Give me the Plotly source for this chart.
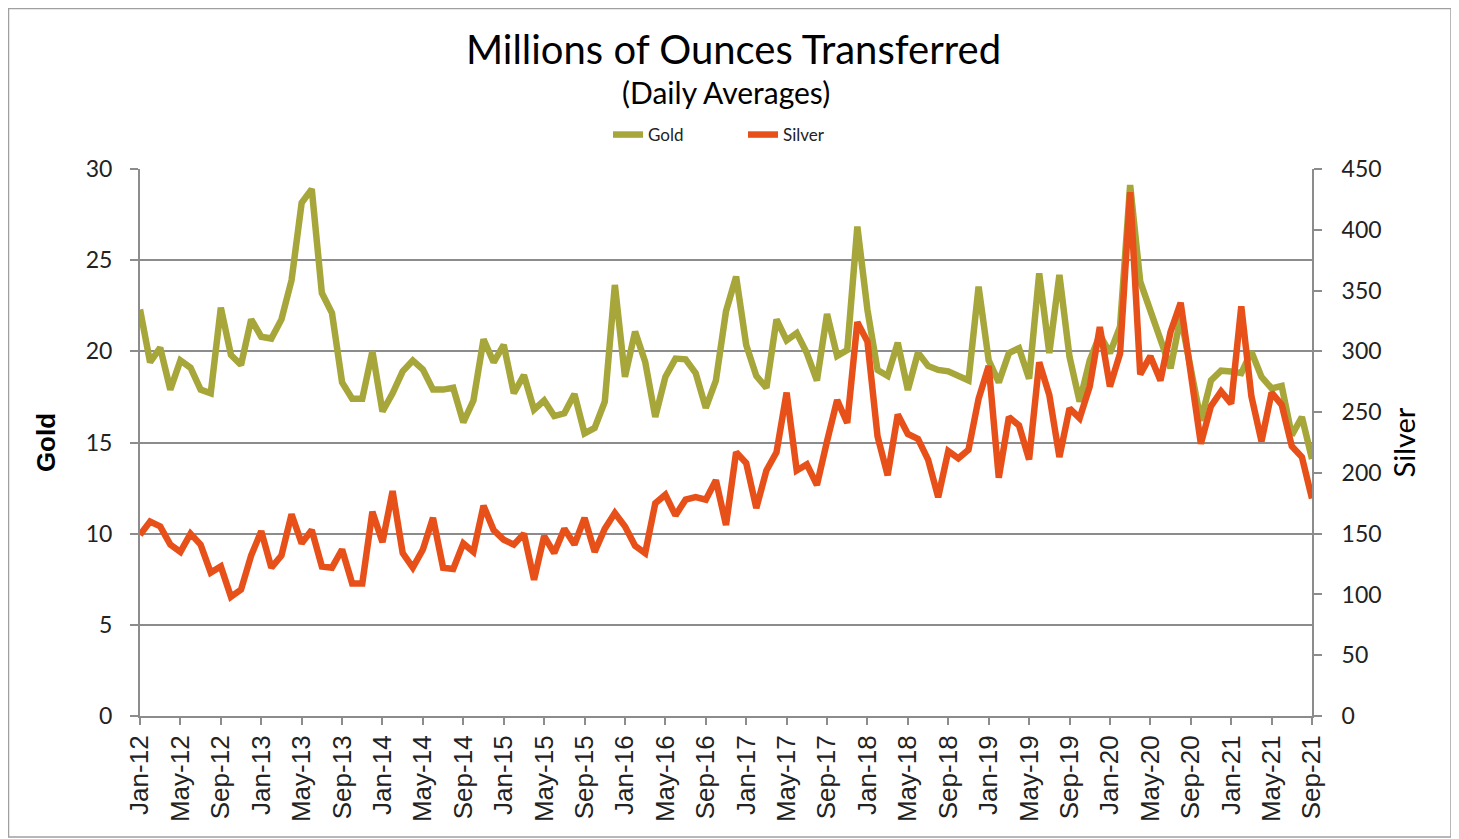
import plotly.graph_objects as go

months = ["Jan", "Feb", "Mar", "Apr", "May", "Jun", "Jul", "Aug", "Sep", "Oct", "Nov", "Dec"]
categories = [f"{m}-{y:02d}" for y in range(12, 22) for m in months][:117]

gold = [
    22.3, 19.4, 20.2, 17.9, 19.5, 19.1, 17.9, 17.7, 22.4, 19.8, 19.25, 21.75,
    20.8, 20.7, 21.75, 23.9, 28.15, 28.9, 23.2, 22.1, 18.3, 17.4, 17.4, 20.0,
    16.7, 17.7, 18.9, 19.5, 19.0, 17.9, 17.9, 18.0, 16.1, 17.3, 20.66, 19.4,
    20.35, 17.7, 18.7, 16.8, 17.3, 16.45, 16.6, 17.66, 15.5, 15.8, 17.24, 23.64,
    18.6, 21.08, 19.43, 16.4, 18.6, 19.6, 19.56, 18.8, 16.9, 18.4, 22.2, 24.1,
    20.35, 18.65, 18.0, 21.75, 20.6, 21.0, 19.9, 18.4, 22.05, 19.75, 20.07, 26.84,
    22.27, 18.98, 18.65, 20.48, 17.88, 19.93, 19.2, 18.98, 18.9, 18.65, 18.4, 23.55,
    19.5, 18.3, 19.9, 20.17, 18.5, 24.28, 19.9, 24.19, 19.7, 17.24, 19.5, 20.9,
    19.9, 21.35, 29.12, 23.82, 22.3, 20.7, 19.07, 21.9, 18.8, 16.2, 18.4, 18.94,
    18.9, 18.8, 19.98, 18.6, 17.97, 18.1, 15.4, 16.4, 14.1,
]

silver = [
    149, 160, 156, 141, 135, 150, 141, 118, 123, 98, 104, 132,
    152, 122, 132, 166, 142, 153, 123, 122, 137, 109, 109, 168,
    143, 185, 134, 122, 137, 163, 122, 121, 142, 135, 173, 153,
    145, 141, 150, 112, 148, 134, 154, 141, 163, 135, 154, 167,
    156, 140, 134, 175, 182, 165, 178, 180, 178, 194, 157, 217,
    208, 171, 202, 217, 266, 202, 207, 190, 226, 260, 241, 324,
    308, 230, 198, 248, 232, 228, 211, 180, 218, 212, 219, 261,
    288, 196, 246, 239, 211, 291, 264, 213, 253, 245, 271, 320,
    271, 298, 431, 281, 296, 276, 316, 340, 282, 224, 255, 267,
    257, 337, 263, 226, 266, 256, 222, 213, 179,
]

tick_labels = categories[::4]

GOLD_C = "#A6A63A"
SILVER_C = "#E8501A"
GRID_C = "#8C8C8C"

fig = go.Figure()
fig.add_trace(go.Scatter(x=categories, y=gold, name="Gold", mode="lines",
                         line=dict(color=GOLD_C, width=6.5), yaxis="y"))
fig.add_trace(go.Scatter(x=categories, y=silver, name="Silver", mode="lines",
                         line=dict(color=SILVER_C, width=6.5), yaxis="y2"))

# page offset of the figure inside the browser (default body margin)
OFF = 8
W, H = 1459 - OFF, 839 - OFF
L, R, T, B = 140 - OFF, 1312 - OFF, 169 - OFF, 716 - OFF

def py(page_y):
    return (B - (page_y - OFF)) / (B - T)

def px(page_x):
    return ((page_x - OFF) - L) / (R - L)

fig.update_layout(
    width=W, height=H,
    margin=dict(l=L, r=W - R, t=T, b=H - B, pad=0),
    paper_bgcolor="white", plot_bgcolor="white",
    showlegend=True,
    legend=dict(orientation="h", x=px(743), xanchor="center", y=py(135), yanchor="middle",
                font=dict(family="Lato", size=17, color="#222"),
                entrywidth=90, entrywidthmode="pixels",
                traceorder="normal"),
    title=dict(text="Millions of Ounces Transferred", x=0.5, xanchor="center",
               y=1 - (50 - OFF) / H, yanchor="middle",
               font=dict(family="Lato", size=40, color="black")),
    xaxis=dict(type="category", range=[0, len(categories) - 1],
               tickmode="array", tickvals=tick_labels, ticktext=tick_labels,
               tickangle=-90, tickfont=dict(family="Liberation Sans", size=26, color="#222"),
               ticks="outside", ticklen=7, tickcolor=GRID_C, tickwidth=2,
               showline=True, linecolor=GRID_C, linewidth=2, showgrid=False, zeroline=False),
    yaxis=dict(range=[0, 30], dtick=5, showgrid=True, gridcolor=GRID_C, gridwidth=2,
               showline=True, linecolor=GRID_C, linewidth=2, zeroline=False,
               ticks="outside", ticklen=8, tickcolor=GRID_C, tickwidth=2,
               ticklabelstandoff=13,
               tickfont=dict(family="Lato", size=23, color="#222"),
               title=dict(text="<b>Gold</b>", font=dict(family="Liberation Sans", size=26, color="black"),
                          standoff=23)),
    yaxis2=dict(range=[0, 450], dtick=50, overlaying="y", side="right", showgrid=False,
                showline=True, linecolor=GRID_C, linewidth=2, zeroline=False,
                ticks="outside", ticklen=8, tickcolor=GRID_C, tickwidth=2,
                ticklabelstandoff=15,
                tickfont=dict(family="Lato", size=23, color="#222"),
                title=dict(text="Silver", font=dict(family="Lato", size=29, color="black"),
                           standoff=14)),
)

fig.add_annotation(text="(Daily Averages)", xref="paper", yref="paper",
                   x=0.5, y=py(92), xanchor="center", yanchor="middle",
                   showarrow=False, font=dict(family="Lato", size=30, color="black"))

# outer chart border (right and bottom edges visible in page area)
fig.add_shape(type="rect", xref="paper", yref="paper",
              x0=px(OFF + 0.5), x1=px(1451),
              y0=py(837), y1=py(OFF + 0.5),
              line=dict(color="#A0A0A0", width=1.5), layer="below")

fig.write_html("out.html")
